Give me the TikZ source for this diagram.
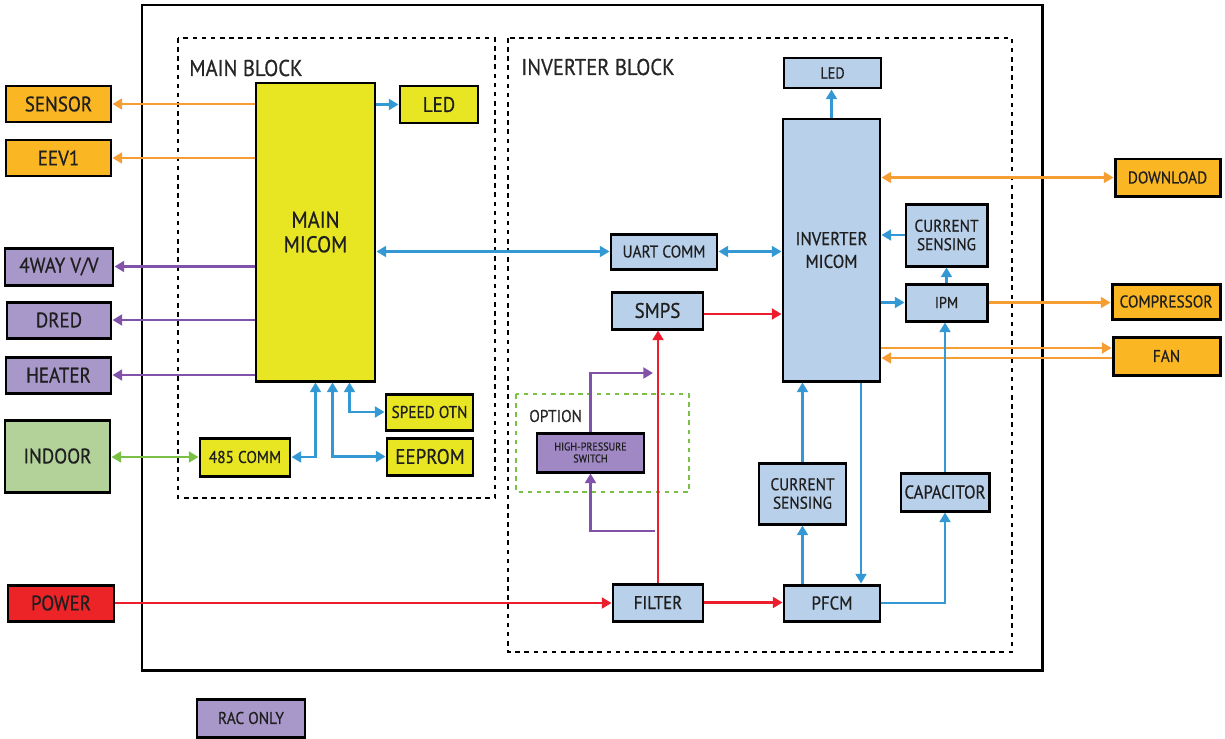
\documentclass[tikz,border=0pt]{standalone}
\usepackage{fontspec}
\setmainfont{PT Sans}[FakeStretch=0.9, FakeBold=0.6]
\usetikzlibrary{arrows.meta, positioning}
\newcommand\pxu{0.02cm}
\newcommand\fxl{\fontsize{13}{14}\selectfont}
\newcommand\flg{\fontsize{12}{13}\selectfont}
\newcommand\fmd{\fontsize{10.6}{13}\selectfont}
\newcommand\fsm{\fontsize{9.7}{10.5}\selectfont}
\newcommand\fxs{\fontsize{9}{10}\selectfont}
\newcommand\ftn{\fontsize{6.4}{6.8}\selectfont}
\definecolor{boxorange}{RGB}{250,183,35}
\definecolor{boxyellow}{RGB}{232,230,34}
\definecolor{boxpurple}{RGB}{168,152,202}
\definecolor{boxpurpledk}{RGB}{160,136,196}
\definecolor{boxgreen}{RGB}{178,210,154}
\definecolor{boxred}{RGB}{236,36,40}
\definecolor{boxblue}{RGB}{184,208,234}
\definecolor{lineorange}{RGB}{246,158,52}
\definecolor{lineblue}{RGB}{52,152,212}
\definecolor{linepurple}{RGB}{128,82,170}
\definecolor{linegreen}{RGB}{122,192,68}
\definecolor{linered}{RGB}{236,30,45}
\begin{document}
\begin{tikzpicture}[x=0.02cm, y=-0.02cm,
        box/.style={rectangle, draw, line width=1.7pt, inner sep=0pt, align=center, font=\fsm, text=black!88},
        sz/.style 2 args={minimum width=#1*\pxu, minimum height=#2*\pxu},
        obox/.style={box, fill=boxorange},
        ybox/.style={box, fill=boxyellow},
        pbox/.style={box, fill=boxpurple},
        bbox/.style={box, fill=boxblue},
        dashbox/.style={line width=1.6pt, dash pattern=on 2.6pt off 2.6pt},
        label/.style={anchor=west, inner sep=0pt, text=black!85},
        arrow/.style={->, line width=1.3pt, >={Triangle[length=5.5pt, width=6.2pt]}},
        oarr/.style={arrow, draw=lineorange},
        barr/.style={arrow, draw=lineblue},
        parr/.style={arrow, draw=linepurple},
        rarr/.style={arrow, draw=linered},
        garr/.style={arrow, draw=linegreen},
        both/.style={<->}
    ]
        \useasboundingbox (0,0) rectangle (1225,738);

        % Frames
        \draw[line width=1.7pt] (142,5) rectangle (1042,670);
        \draw[dashbox] (178,38) rectangle (495,498);
        \draw[dashbox] (508,38) rectangle (1012,652);
        \draw[dashbox, draw=linegreen] (516,394) rectangle (689,492);
        \node[label, font=\fxl] (mainlbl) at (189,68) {MAIN BLOCK};
        \node[label, font=\fxl] (invlbl) at (521,67) {INVERTER BLOCK};
        \node[label, font=\fsm] (optlbl) at (529,416) {OPTION};

        % Outside blocks
        \node[obox, sz={105}{36}, font=\flg] (sensor) at (58.5,104) {SENSOR};
        \node[obox, sz={105}{36}, font=\flg] (eev) at (58.5,158) {EEV1};
        \node[pbox, sz={108}{37}, font=\flg] (fourway) at (59,266.5) {4WAY V/V};
        \node[pbox, sz={104}{36}, font=\flg] (dred) at (59,320) {DRED};
        \node[pbox, sz={105}{36}, font=\flg] (heater) at (58.5,375) {HEATER};
        \node[box, fill=boxgreen, sz={105}{72}, font=\flg] (indoor) at (57.5,456) {INDOOR};
        \node[box, fill=boxred, sz={106}{36}, font=\flg] (power) at (61,603) {POWER};
        \node[pbox, sz={108}{38}] (raconly) at (251,718) {RAC ONLY};
        \node[obox, sz={105}{37}] (download) at (1167.5,177.5) {DOWNLOAD};
        \node[obox, sz={108}{35}] (compressor) at (1166,301.5) {COMPRESSOR};
        \node[obox, sz={107}{38}] (fan) at (1166.5,356) {FAN};

        % Main block
        \node[ybox, sz={119}{298}, font=\fxl] (mmicom) at (315.5,232) {MAIN\\MICOM};
        \node[ybox, sz={78}{37}, font=\flg] (mled) at (439,104.5) {LED};
        \node[ybox, sz={87}{36}] (speed) at (429.5,412) {SPEED OTN};
        \node[ybox, sz={86}{37}, font=\flg] (eeprom) at (430,456.5) {EEPROM};
        \node[ybox, sz={90}{38}] (comm) at (245,457) {485 COMM};

        % Inverter block
        \node[bbox, sz={97}{262}, font=\fmd] (imicom) at (831.5,250) {INVERTER\\MICOM};
        \node[bbox, sz={97}{30}, font=\fxs] (iled) at (832.5,73) {LED};
        \node[bbox, sz={106}{35}] (uart) at (664,251.5) {UART COMM};
        \node[bbox, sz={91}{37}, font=\flg] (smps) at (657.5,310.5) {SMPS};
        \node[bbox, sz={81}{62}] (cstop) at (946.5,235) {CURRENT\\SENSING};
        \node[bbox, sz={81}{37}, font=\fxs] (ipm) at (946.5,302.5) {IPM};
        \node[bbox, sz={88}{38}, font=\fmd] (cap) at (945,492) {CAPACITOR};
        \node[bbox, sz={87}{61}] (csbot) at (802.5,493.5) {CURRENT\\SENSING};
        \node[bbox, sz={96}{36}, font=\fmd] (pfcm) at (832,603) {PFCM};
        \node[bbox, sz={90}{37}, font=\fmd] (filter) at (658,602.5) {FILTER};
        \node[box, fill=boxpurpledk, sz={107}{39}, font=\ftn] (hps) at (590.5,452.5) {HIGH-PRESSURE\\SWITCH};
        \coordinate (hpsout) at (653,373);
        \coordinate (hpsin) at (655,531);

        % Main block signals
        \draw[oarr] (mmicom.west |- sensor.east) -- (sensor.east);
        \draw[oarr] (mmicom.west |- eev.east) -- (eev.east);
        \draw[parr] (mmicom.west |- fourway.east) -- (fourway.east);
        \draw[parr] (mmicom.west |- dred.east) -- (dred.east);
        \draw[parr] (mmicom.west |- heater.east) -- (heater.east);
        \draw[barr] (mmicom.east |- mled.west) -- (mled.west);
        \draw[garr, both] (indoor.east |- comm.west) -- (comm.west);
        \draw[barr, both] (comm.east) -| (mmicom.south);
        \draw[barr, both] (eeprom.west) -| ([xshift=17*\pxu]mmicom.south);
        \draw[barr, both] (speed.west) -| ([xshift=34*\pxu]mmicom.south);
        \draw[barr, both] (mmicom.east |- uart.west) -- (uart.west);

        % Inverter block signals
        \draw[barr, both] (uart.east) -- (uart.east -| imicom.west);
        \draw[barr] (imicom.north) -- (imicom.north |- iled.south);
        \draw[oarr, both] (imicom.east |- download.west) -- (download.west);
        \draw[barr] (cstop.west) -- (cstop.west -| imicom.east);
        \draw[barr] (imicom.east |- ipm.west) -- (ipm.west);
        \draw[barr] (ipm.north) -- (cstop.south);
        \draw[oarr] (ipm.east) -- (ipm.east -| compressor.west);
        \draw[oarr] (imicom.east |- 0,348) -- (fan.west |- 0,348);
        \draw[oarr] (fan.west |- 0,358) -- (imicom.east |- 0,358);
        \draw[rarr] (smps.east |- 0,314) -- (imicom.west |- 0,314);
        \draw[rarr] (power.east) -- (power.east -| filter.west);
        \draw[rarr] (filter.east) -- (filter.east -| pfcm.west);
        \draw[rarr] (filter.north) -- (filter.north |- smps.south);
        \draw[barr] (csbot.south |- pfcm.north) -- (csbot.south);
        \draw[barr] (csbot.north) -- (csbot.north |- imicom.south);
        \draw[barr] (imicom.south -| 861,0) -- (pfcm.north -| 861,0);
        \draw[barr] (pfcm.east) -| (cap.south);
        \draw[barr] (cap.north) -- (cap.north |- ipm.south);
        \draw[parr] (hps.north) |- (hpsout);
        \draw[parr] (hpsin) -| (hps.south);
\end{tikzpicture}
\end{document}
